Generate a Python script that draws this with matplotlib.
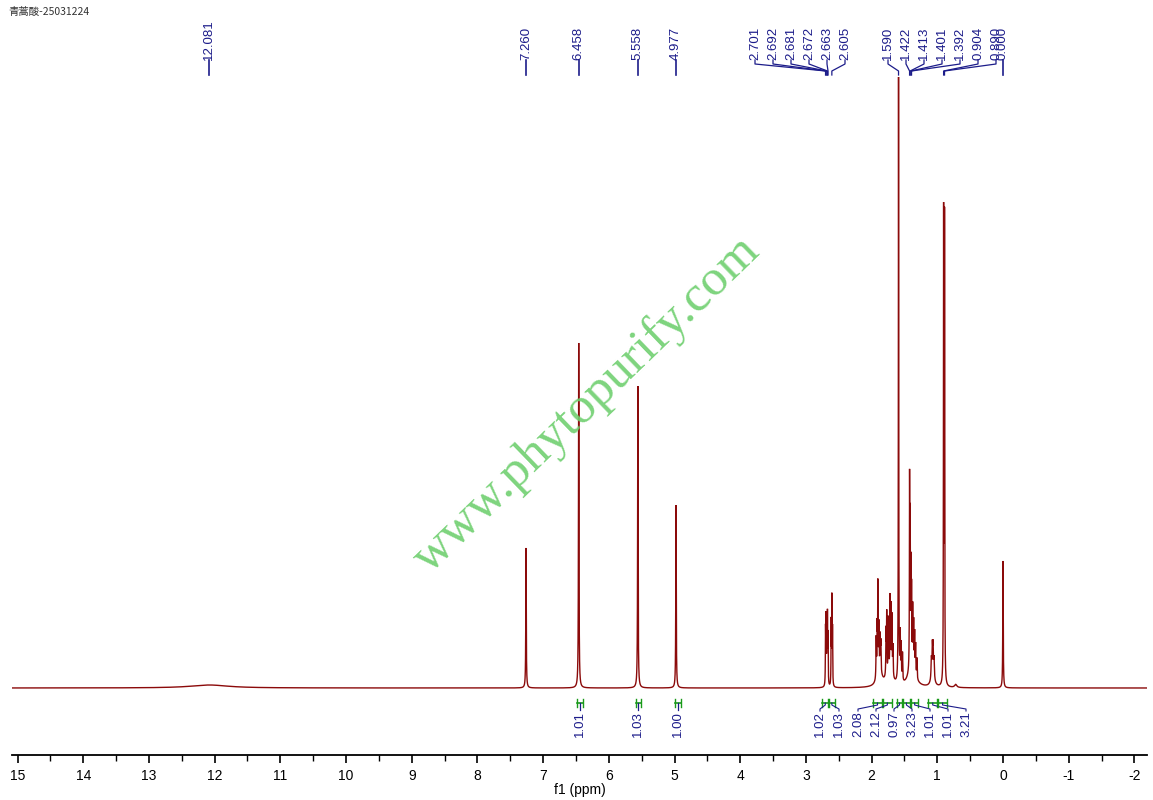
import numpy as np
import matplotlib.pyplot as plt

plt.rcParams['font.family'] = ['Liberation Sans', 'DejaVu Sans']

title = "青蒿酸-25031224"
watermark = "www.phytopurify.com"

# peaks: shift (ppm), height (px above baseline), half width (ppm)
peak_ppm = [12.08, 7.260, 6.458, 5.558, 4.977, 0.000,
            2.701, 2.692, 2.681, 2.672, 2.663, 2.615, 2.605, 2.595,
            1.930, 1.915, 1.905, 1.890, 1.870, 1.860, 1.880,
            1.780, 1.770, 1.745, 1.720, 1.705, 1.690, 1.675, 1.730,
            1.590, 1.565, 1.550, 1.530,
            1.422, 1.413, 1.401, 1.392, 1.375, 1.360, 1.345, 1.330, 1.310, 1.390,
            1.090, 1.075, 1.065, 1.050, 1.070,
            0.904, 0.890, 0.720]
peak_height = [3, 140, 345, 302, 183, 127,
               55, 65, 58, 66, 48, 62, 85, 55,
               40, 48, 85, 45, 32, 28, 16,
               45, 58, 52, 72, 64, 58, 30, 16,
               605, 45, 36, 28,
               185, 140, 95, 70, 58, 45, 38, 30, 20, 20,
               20, 28, 28, 20, 10,
               465, 460, 3]
peak_hw = [0.35, 0.004, 0.004, 0.004, 0.004, 0.004,
           0.003, 0.003, 0.003, 0.003, 0.003, 0.003, 0.003, 0.003,
           0.004, 0.004, 0.003, 0.004, 0.004, 0.004, 0.04,
           0.004, 0.003, 0.004, 0.003, 0.003, 0.004, 0.004, 0.05,
           0.003, 0.004, 0.004, 0.004,
           0.003, 0.003, 0.003, 0.003, 0.004, 0.004, 0.004, 0.004, 0.004, 0.06,
           0.006, 0.005, 0.005, 0.006, 0.03,
           0.003, 0.003, 0.02]

# picked peak labels (groups share one fan of leaders)
label_groups = [[12.081], [7.260], [6.458], [5.558], [4.977],
                [2.701, 2.692, 2.681, 2.672, 2.663, 2.605],
                [1.590, 1.422, 1.413, 1.401, 1.392, 0.904, 0.890],
                [0.000]]

# integrals: ranges (ppm) and values
int_from = [6.48, 5.59, 4.99, 2.75, 2.65, 1.98, 1.83, 1.61, 1.52, 1.40, 1.14, 0.99]
int_to = [6.39, 5.51, 4.90, 2.66, 2.56, 1.84, 1.69, 1.54, 1.42, 1.29, 1.00, 0.85]
int_value = ["1.01", "1.03", "1.00", "1.02", "1.03", "2.08", "2.12", "0.97",
             "3.23", "1.01", "1.01", "3.21"]
int_groups = [[0], [1], [2], [3, 4], [5, 6, 7, 8, 9, 10, 11]]

W, H = 1153, 800
PX_PER_PPM = 65.7
X0 = 1003  # pixel of 0 ppm


def px2ppm(px):
    return (X0 - px) / PX_PER_PPM


fig = plt.figure(figsize=(W / 100, H / 100), dpi=100)
ax_left, ax_right, ax_bottom = 12, 1147, 755
ax = fig.add_axes([ax_left / W, (H - ax_bottom) / H, (ax_right - ax_left) / W, ax_bottom / H])
ax.set_xlim(px2ppm(ax_left), px2ppm(ax_right))
base = 688
ax.set_ylim(base - ax_bottom, base)  # data y = base - pixel row


def ry(row):
    return base - row


# spectrum
x = np.linspace(15.1, -2.2, 70000)
y = np.zeros_like(x)
for p, h, w in zip(peak_ppm, peak_height, peak_hw):
    y += h / (1 + ((x - p) / w) ** 2)
ax.plot(x, y, color='#8b0a0a', lw=1.0, solid_joinstyle='miter')

navy = '#1c1c8a'

# peak labels with leaders
spacing = 18 / PX_PER_PPM
for grp in label_groups:
    n = len(grp)
    if n == 1:
        lx = [grp[0]]
    else:
        start = px2ppm(755 if grp[0] > 2 else 888)
        lx = [start - i * spacing for i in range(n)]
    for p, l in zip(grp, lx):
        ax.text(l, ry(60), f"{p:.3f}", rotation=90, ha='center', va='bottom',
                fontsize=9.5, color=navy)
        if n == 1:
            ax.plot([p, p], [ry(60), ry(75)], color=navy, lw=1.2)
        else:
            ax.plot([l, l, p, p], [ry(60), ry(64), ry(71), ry(75)], color=navy, lw=0.9)

# integrals
green = '#1a9a1a'
for gi, grp in enumerate(int_groups):
    n = len(grp)
    for k, i in enumerate(grp):
        a, b = int_from[i], int_to[i]
        c = (a + b) / 2
        ax.plot([a, b], [ry(703), ry(703)], color=green, lw=1.2)
        ax.plot([a, a], [ry(699), ry(707)], color=green, lw=1.0)
        ax.plot([b, b], [ry(699), ry(707)], color=green, lw=1.0)
        if n == 1:
            lx = c
            ax.plot([c, c], [ry(703), ry(710)], color=navy, lw=0.9)
        else:
            if n == 2:
                lx = px2ppm(820 + k * 19)
            else:
                lx = px2ppm(858 + k * 18)
            ax.plot([c, c, lx, lx], [ry(703), ry(705), ry(709), ry(711)], color=navy, lw=0.8)
        ax.text(lx, ry(711), int_value[i], rotation=90, ha='center', va='top',
                fontsize=9.5, color=navy)

# axis styling
for s in ['top', 'left', 'right']:
    ax.spines[s].set_visible(False)
ax.spines['bottom'].set_linewidth(1.3)
ax.set_yticks([])
ax.set_xticks(np.arange(15, -3, -1))
ax.set_xticks(np.arange(14.5, -2.5, -1), minor=True)
ax.set_xticklabels([str(int(v)) for v in np.arange(15, -3, -1)])
ax.tick_params(axis='x', which='major', direction='out', length=6, width=1.2,
               labelsize=10, pad=4)
ax.tick_params(axis='x', which='minor', direction='out', length=4, width=1.0)
ax.set_xlabel("f1 (ppm)", fontsize=10, labelpad=0)
ax.patch.set_alpha(0)

fig.text(8 / W, 1 - 12 / H, title, fontsize=7.5, color='#333333', va='center',
         family=['Noto Sans CJK SC', 'DejaVu Sans'])

fig.text(587 / W, 1 - 405 / H, watermark, fontsize=37, color='#6fcf6f',
         rotation=44, ha='center', va='center', family='Liberation Serif',
         alpha=0.9, zorder=0)

fig.savefig("out.png", dpi=100)
